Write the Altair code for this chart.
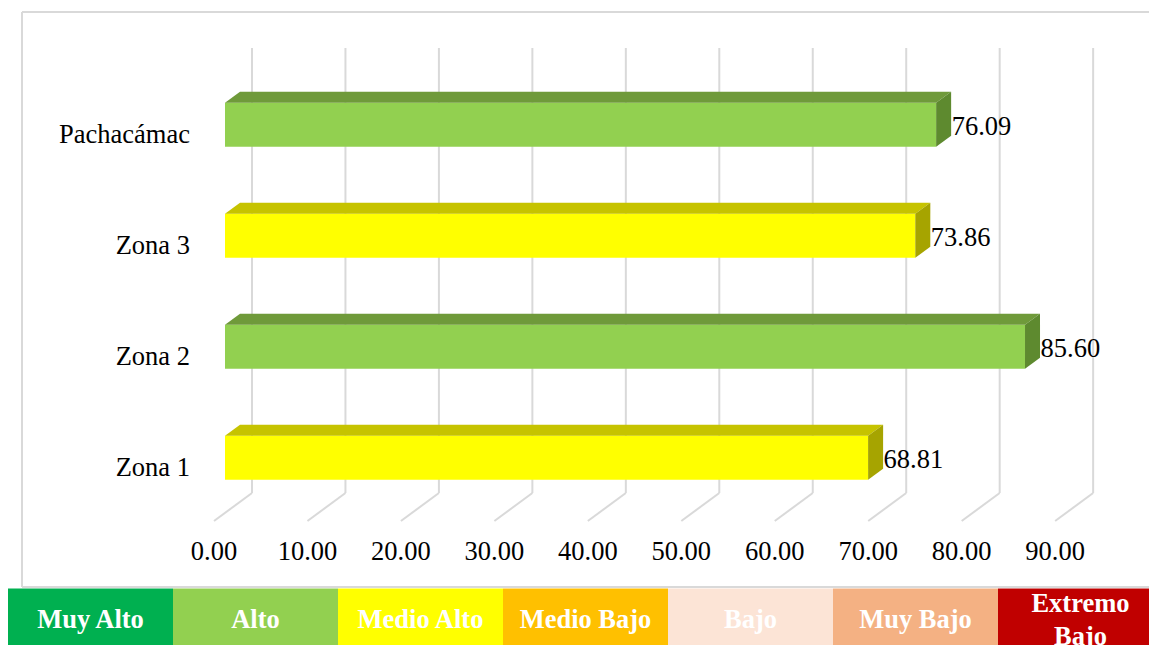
import altair as alt
import pandas as pd

# ---------------- data ----------------
categories = ["Pachacámac", "Zona 3", "Zona 2", "Zona 1"]
values = [76.09, 73.86, 85.60, 68.81]
levels = ["Alto", "Medio Alto", "Alto", "Medio Alto"]
tick_values = [0, 10, 20, 30, 40, 50, 60, 70, 80, 90]
legend_labels = ["Muy Alto", "Alto", "Medio Alto", "Medio Bajo", "Bajo", "Muy Bajo", "Extremo Bajo"]
legend_colors = ["#00b050", "#92d050", "#ffff00", "#ffc000", "#fce4d6", "#f4b183", "#c00000"]

# face colours of each level (front, top, side)
level_front = {"Alto": "#92d050", "Medio Alto": "#ffff00"}
level_top = {"Alto": "#6f9a3a", "Medio Alto": "#c6c300"}
level_side = {"Alto": "#5e8a2f", "Medio Alto": "#a6a400"}

# ---------------- layout ----------------
W, H = 1141, 637
PX = 9.346          # pixels per value unit
X0 = 217            # pixel of value 0 (front face)
PY = 111            # pixels between category rows
Y0 = 116.8          # pixel of first row centre
HALF = 22           # half height of front face (px)
DDX, DDY = 15, 11   # bar depth offset (px)
GDX = 27            # back wall offset of grid (px)
FDX, FDY = -38, 28  # floor diagonal (px)
GRID_TOP, GRID_BOT = 40, 485
FONT = "Liberation Serif"
FS = 26.5


def xo(p):
    return p / PX


def yo(p):
    return p / PY


def ya(p):
    return (p - Y0) / PY


xs = alt.Scale(domain=[-X0 / PX, (W - X0) / PX], nice=False, zero=False)
ys = alt.Scale(domain=[ya(0), ya(H)], reverse=True, nice=False, zero=False)

# ---------------- frames ----------------
front_rows, top_rows, side_rows, lab_rows = [], [], [], []
for i, (c, v, lv) in enumerate(zip(categories, values, levels)):
    front_rows.append(dict(cat=c, x=0, x2=v, y=i - yo(HALF), y2=i + yo(HALF), fill=level_front[lv]))
    top_rows.append(dict(bar=c, y=i - yo(HALF), x=0, x2=v, fill=level_top[lv]))
    top_rows.append(dict(bar=c, y=i - yo(HALF + DDY), x=xo(DDX), x2=v + xo(DDX), fill=level_top[lv]))
    side_rows.append(dict(bar=c, x=v, y=i - yo(HALF), y2=i + yo(HALF), fill=level_side[lv]))
    side_rows.append(dict(bar=c, x=v + xo(DDX), y=i - yo(HALF + DDY), y2=i + yo(HALF - DDY), fill=level_side[lv]))
    lab_rows.append(dict(cat=c, v=v, lx=v + xo(DDX + 0.5), ly=i + yo(10), cx=xo(182 - X0), cy=i + yo(18)))

front_df = pd.DataFrame(front_rows)
top_df = pd.DataFrame(top_rows)
side_df = pd.DataFrame(side_rows)
lab_df = pd.DataFrame(lab_rows)

grid_v = pd.DataFrame([dict(x=t + xo(GDX), y=ya(GRID_TOP), y2=ya(GRID_BOT)) for t in tick_values])
grid_d = pd.DataFrame([dict(x=t + xo(GDX), y=ya(GRID_BOT), x2=t + xo(GDX + FDX), y2=ya(GRID_BOT + FDY)) for t in tick_values])
tick_df = pd.DataFrame([dict(t=t, x=t + xo(GDX + FDX), y=ya(552)) for t in tick_values])

legend_df = pd.DataFrame(dict(label=legend_labels, color=legend_colors,
                              text=[l.replace("Extremo ", "Extremo\n") for l in legend_labels]))

GRID = "#d9d9d9"

grid_v_layer = alt.Chart(grid_v).mark_rule(color=GRID, strokeWidth=2).encode(
    x=alt.X("x:Q", scale=xs, axis=None), y=alt.Y("y:Q", scale=ys, axis=None), y2="y2:Q")
grid_d_layer = alt.Chart(grid_d).mark_rule(color=GRID, strokeWidth=2).encode(
    x=alt.X("x:Q", scale=xs, axis=None), y=alt.Y("y:Q", scale=ys, axis=None), x2="x2:Q", y2="y2:Q")

one = pd.DataFrame({"a": [0]})
frame_top = alt.Chart(one).mark_rule(color=GRID, strokeWidth=2).encode(
    x=alt.value(14), x2=alt.value(W + 10), y=alt.value(4))
frame_left = alt.Chart(one).mark_rule(color=GRID, strokeWidth=2).encode(
    x=alt.value(14), y=alt.value(4), y2=alt.value(579))
frame_bot = alt.Chart(one).mark_rule(color=GRID, strokeWidth=2).encode(
    x=alt.value(14), x2=alt.value(W + 10), y=alt.value(579))

front_layer = alt.Chart(front_df).mark_rect().encode(
    x=alt.X("x:Q", scale=xs, axis=None), x2="x2:Q",
    y=alt.Y("y:Q", scale=ys, axis=None), y2="y2:Q",
    color=alt.Color("fill:N", scale=None))
top_layer = alt.Chart(top_df).mark_area(orient="horizontal").encode(
    y=alt.Y("y:Q", scale=ys, axis=None),
    x=alt.X("x:Q", scale=xs, axis=None), x2="x2:Q",
    detail="bar:N", color=alt.Color("fill:N", scale=None))
side_layer = alt.Chart(side_df).mark_area(orient="vertical").encode(
    x=alt.X("x:Q", scale=xs, axis=None),
    y=alt.Y("y:Q", scale=ys, axis=None), y2="y2:Q",
    detail="bar:N", color=alt.Color("fill:N", scale=None))

value_labels = alt.Chart(lab_df).mark_text(align="left", baseline="alphabetic", font=FONT,
                                           fontSize=FS, color="#000000").encode(
    x=alt.X("lx:Q", scale=xs, axis=None), y=alt.Y("ly:Q", scale=ys, axis=None),
    text=alt.Text("v:Q", format=".2f"))
cat_labels = alt.Chart(lab_df).mark_text(align="right", baseline="alphabetic", font=FONT,
                                         fontSize=FS, color="#000000").encode(
    x=alt.X("cx:Q", scale=xs, axis=None), y=alt.Y("cy:Q", scale=ys, axis=None),
    text="cat:N")
tick_labels = alt.Chart(tick_df).mark_text(align="center", baseline="alphabetic", font=FONT,
                                           fontSize=FS, color="#000000").encode(
    x=alt.X("x:Q", scale=xs, axis=None), y=alt.Y("y:Q", scale=ys, axis=None),
    text=alt.Text("t:Q", format=".2f"))

lx = alt.Scale(domain=legend_labels, range=[0, 165 * 7], paddingInner=0, paddingOuter=0)
legend_boxes = alt.Chart(legend_df).mark_rect().encode(
    x=alt.X("label:N", sort=legend_labels, scale=lx, axis=None),
    y=alt.value(580.5), y2=alt.value(H + 10),
    color=alt.Color("color:N", scale=None))
legend_text_1 = alt.Chart(legend_df).transform_filter(
    "indexof(datum.text, '\\n') < 0").mark_text(
    align="center", baseline="alphabetic", font=FONT, fontSize=FS, fontWeight="bold",
    color="#ffffff").encode(
    x=alt.X("label:N", sort=legend_labels, scale=lx, axis=None),
    y=alt.value(619.7), text="text:N")
legend_text_2 = alt.Chart(legend_df).transform_filter(
    "indexof(datum.text, '\\n') >= 0").mark_text(
    align="center", baseline="alphabetic", font=FONT, fontSize=FS, fontWeight="bold",
    color="#ffffff", lineBreak="\n", lineHeight=33).encode(
    x=alt.X("label:N", sort=legend_labels, scale=lx, axis=None),
    y=alt.value(603.7), text="text:N")

main = alt.layer(grid_v_layer, grid_d_layer, frame_top, frame_left, frame_bot,
                 front_layer, top_layer, side_layer,
                 value_labels, cat_labels, tick_labels)
legend = alt.layer(legend_boxes, legend_text_1, legend_text_2)

chart = alt.layer(main, legend).resolve_scale(x="independent").properties(
    width=W, height=H, padding=0, autosize=alt.AutoSizeParams(type="none"),
    background="#ffffff"
).configure_view(stroke=None)

chart.save("out.html", embed_options={"renderer": "svg", "actions": False})
